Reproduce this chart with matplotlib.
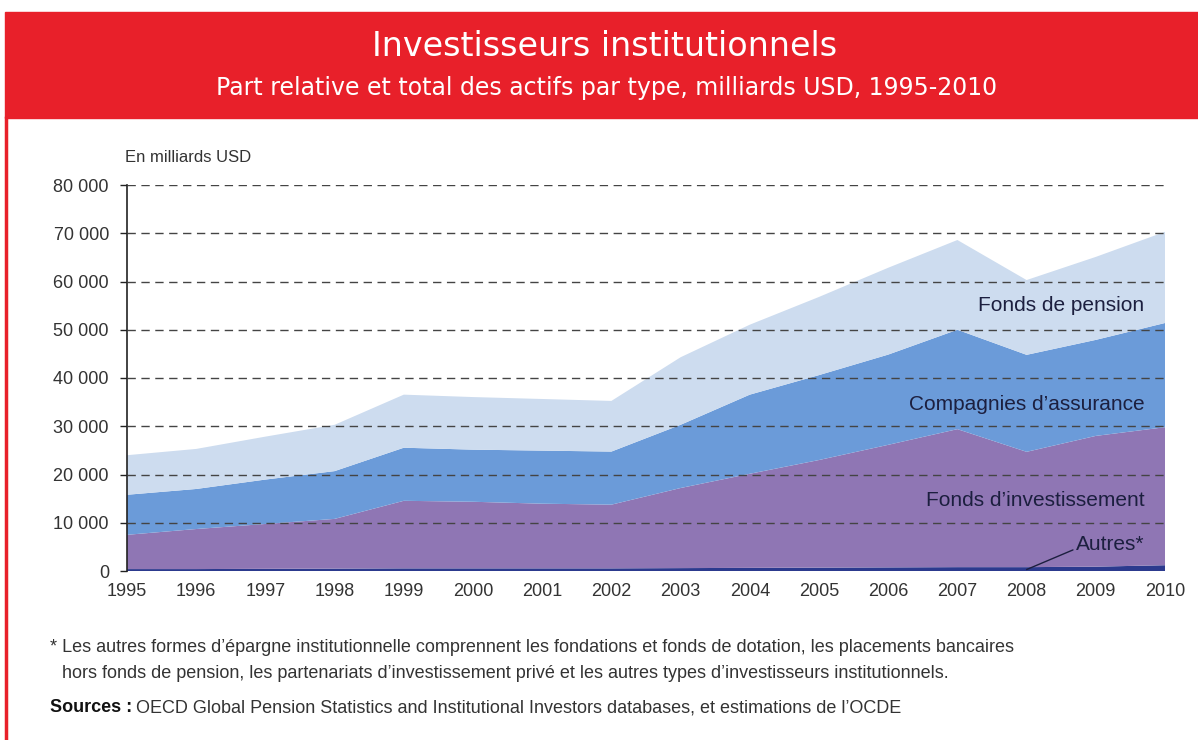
import numpy as np
import matplotlib.pyplot as plt
from matplotlib.patches import Rectangle
from matplotlib.lines import Line2D
from matplotlib.ticker import FuncFormatter

plt.rcParams['font.family'] = ['Liberation Sans', 'DejaVu Sans']

years = list(range(1995, 2011))
autres = [400, 400, 450, 500, 550, 550, 550, 550, 600, 650, 700, 750, 800, 800, 900, 1200]
fonds_invest = [7100, 8300, 9300, 10300, 14000, 13800, 13400, 13200, 16600, 19500, 22300, 25400, 28600, 23900, 27100, 28600]
assurance = [8300, 8300, 9200, 9900, 11000, 10800, 11000, 11000, 13100, 16400, 17600, 18700, 20600, 20100, 19900, 21600]
pension = [8200, 8300, 8900, 9600, 11000, 10900, 10700, 10500, 14000, 14500, 16200, 18000, 18600, 15500, 17200, 18900]

series = [autres, fonds_invest, assurance, pension]
colors = ['#2c3a8e', '#8f76b4', '#6b9bd9', '#cddcef']

W, H = 1198, 740
fig = plt.figure(figsize=(W / 100, H / 100), dpi=100)
fig.patch.set_facecolor('white')

# red header band and left border
fig.patches.append(Rectangle((5 / W, 1 - 118 / H), 1 - 5 / W, 106 / H,
                             transform=fig.transFigure, color='#e8202a', zorder=0))
fig.lines.append(Line2D([6 / W, 6 / W], [0, 1 - 118 / H], transform=fig.transFigure,
                        color='#e8202a', lw=2.5))
fig.text(605 / W, 1 - 46 / H, 'Investisseurs institutionnels', color='white',
         fontsize=24, ha='center', va='center', family='DejaVu Sans')
fig.text(607 / W, 1 - 88 / H, 'Part relative et total des actifs par type, milliards USD, 1995-2010',
         color='white', fontsize=17, ha='center', va='center', family='DejaVu Sans')

ax = fig.add_axes([127 / W, 1 - 571 / H, (1165 - 127) / W, (571 - 185) / H])
ax.stackplot(years, *series, colors=colors, zorder=1, linewidth=0)
ax.set_xlim(1995, 2010)
ax.set_ylim(0, 80000)

for v in range(10000, 80001, 10000):
    ax.axhline(v, color='#444444', lw=1, ls=(0, (6, 4)), zorder=3)

ax.set_xticks(years)
ax.set_yticks(range(0, 80001, 10000))
ax.yaxis.set_major_formatter(FuncFormatter(lambda v, p: f'{int(v):,}'.replace(',', ' ')))
ax.tick_params(axis='y', length=5, width=1, color='#222222', labelsize=13,
               labelcolor='#333333', pad=8)
ax.tick_params(axis='x', length=0, labelsize=13, labelcolor='#333333', pad=9)
for s in ['top', 'right', 'bottom']:
    ax.spines[s].set_visible(False)
ax.spines['left'].set_color('#222222')
ax.spines['left'].set_linewidth(1.2)
ax.set_facecolor('none')

fig.text(125 / W, 1 - 157 / H, 'En milliards USD', fontsize=12, color='#333333',
         ha='left', va='center')

txt = '#1c1f3f'
ax.text(2009.7, 55100, 'Fonds de pension', ha='right', va='center', fontsize=15, color=txt, zorder=4)
ax.text(2009.7, 34600, 'Compagnies d’assurance', ha='right', va='center', fontsize=15, color=txt, zorder=4)
ax.text(2009.7, 14700, 'Fonds d’investissement', ha='right', va='center', fontsize=15, color=txt, zorder=4)
ax.annotate('Autres*', xy=(2008, 300), xytext=(2009.7, 5400), ha='right', va='center',
            fontsize=15, color=txt, zorder=4,
            arrowprops=dict(arrowstyle='-', color=txt, lw=1, shrinkA=0, shrinkB=0,
                            relpos=(0, 0.3)))

foot = '#333333'
fig.text(50 / W, 1 - 648 / H,
         '* Les autres formes d’épargne institutionnelle comprennent les fondations et fonds de dotation, les placements bancaires',
         fontsize=13, color=foot, va='center')
fig.text(62 / W, 1 - 673 / H,
         'hors fonds de pension, les partenariats d’investissement privé et les autres types d’investisseurs institutionnels.',
         fontsize=13, color=foot, va='center')
src = fig.text(50 / W, 1 - 708 / H, 'Sources :', fontsize=13, color='#111111', va='center',
               fontweight='bold')
fig.canvas.draw()
bb = src.get_window_extent()
fig.text((bb.x1 + 4) / W, 1 - 708 / H,
         'OECD Global Pension Statistics and Institutional Investors databases, et estimations de l’OCDE',
         fontsize=13, color=foot, va='center')

fig.savefig('out.png', dpi=100)
